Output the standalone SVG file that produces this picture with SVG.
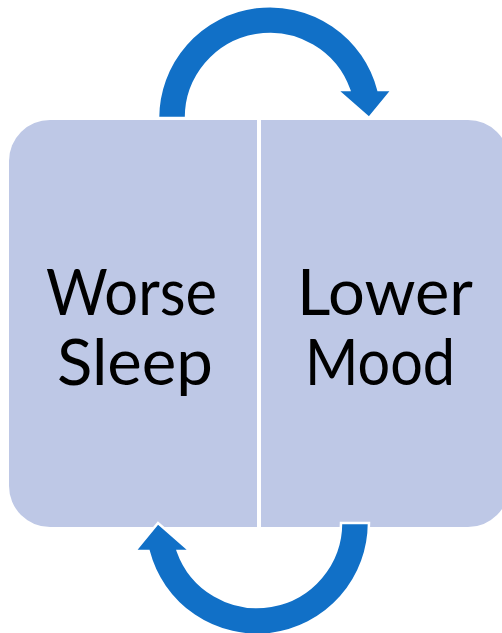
<svg xmlns="http://www.w3.org/2000/svg" width="502" height="633" viewBox="0 0 502 633">
<style>
.box{fill:#BEC8E6;}
.lbl{font-family:Lato,"Open Sans","DejaVu Sans",sans-serif;font-size:64px;fill:#000;text-anchor:middle;}
.arrow{fill:#1170C7;stroke:#FFFFFF;stroke-width:2.5;stroke-linejoin:miter;}
</style>
<defs>
<path id="cyc" d="M158,118 A112,112 0 0 1 378.4,90 L392,90 L369,118 L337,90 L349.2,90 A84,84 0 0 0 186,118 Z"/>
</defs>
<rect width="502" height="633" fill="#FFFFFF"/>
<g id="worse-sleep">
<path class="box" d="M257,120 L50,120 A41,41 0 0 0 9,161 L9,486 A41,41 0 0 0 50,527 L257,527 Z"/>
<text class="lbl" x="131.5" y="315" textLength="171" lengthAdjust="spacingAndGlyphs">Worse</text>
<text class="lbl" x="135" y="385" textLength="156" lengthAdjust="spacingAndGlyphs">Sleep</text>
</g>
<g id="lower-mood">
<path class="box" d="M261,120 L468,120 A41,41 0 0 1 509,161 L509,486 A41,41 0 0 1 468,527 L261,527 Z"/>
<text class="lbl" x="385" y="315" textLength="176" lengthAdjust="spacingAndGlyphs">Lower</text>
<text class="lbl" x="380" y="385" textLength="150" lengthAdjust="spacingAndGlyphs">Mood</text>
</g>
<g id="connectors">
<use href="#cyc" class="arrow"/>
<use href="#cyc" class="arrow" transform="rotate(180 263.5 320.5)"/>
</g>
</svg>
